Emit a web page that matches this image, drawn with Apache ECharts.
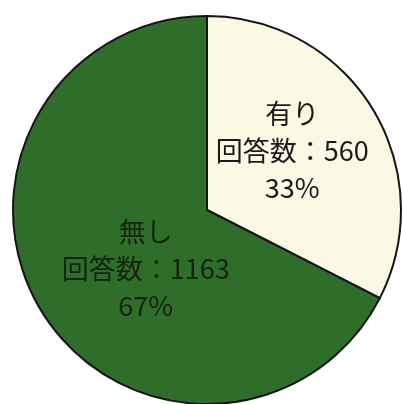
<!DOCTYPE html>
<html><head><meta charset="utf-8">
<script src="https://cdn.jsdelivr.net/npm/echarts@6/dist/echarts.min.js"></script>
<style>html,body{margin:0;padding:0;background:#fff}#c{width:403px;height:404px}</style>
</head><body><div id="c"></div>
<script>
const categories = ['有り', '無し'];
const counts = [560, 1163];
const percentLabels = ['33%', '67%'];

const colors = ['#fbf8e3', '#2f6d2a'];
const textColors = ['#1a1a1a', '#15240f'];
const offsets = [[0, -7], [24, 6]];

const chart = echarts.init(document.getElementById('c'));
chart.setOption({
  backgroundColor: '#ffffff',
  animation: false,
  series: [{
    type: 'pie',
    center: [207, 210],
    radius: [0, 194],
    startAngle: 90,
    clockwise: true,
    silent: true,
    itemStyle: { borderColor: '#151515', borderWidth: 2 },
    labelLine: { show: false },
    data: categories.map((c, i) => ({
      name: c,
      value: counts[i],
      itemStyle: { color: colors[i] },
      label: {
        show: true,
        position: 'inside',
        offset: offsets[i],
        formatter: c + '\n回答数：' + counts[i] + '\n' + percentLabels[i],
        color: textColors[i],
        fontFamily: '"Noto Sans CJK JP", "Noto Sans", sans-serif',
        fontSize: 27,
        lineHeight: 37,
        align: 'center'
      }
    }))
  }]
});
</script></body></html>
